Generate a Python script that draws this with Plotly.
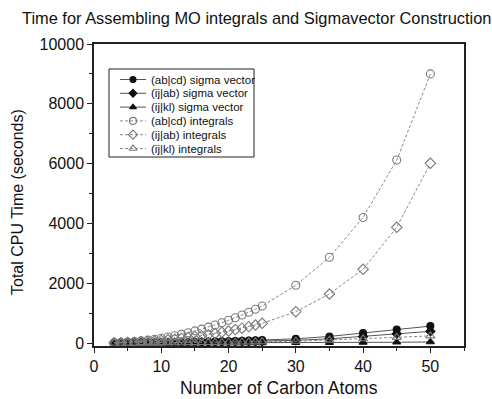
import plotly.graph_objects as go

carbons = [3, 4, 5, 6, 7, 8, 9, 10, 11, 12, 13, 14, 15, 16, 17, 18, 19, 20, 21, 22, 23, 24, 25,
           30, 35, 40, 45, 50]

abcd_sigma = [1, 2, 3, 4, 6, 8, 10, 13, 16, 19, 23, 27, 32, 37, 42, 48, 54, 60, 66, 73, 80, 87, 95,
              140, 220, 330, 450, 565]
ijab_sigma = [1, 1, 2, 3, 4, 5, 7, 9, 10, 12, 15, 18, 21, 24, 27, 31, 35, 39, 43, 47, 52, 57, 62,
              90, 140, 215, 310, 390]
ijkl_sigma = [0, 0, 0, 1, 1, 1, 1, 2, 2, 2, 3, 3, 3, 3, 4, 4, 4, 5, 5, 5, 5, 6, 6,
              10, 14, 19, 25, 35]
abcd_int = [12, 22, 35, 52, 72, 97, 127, 160, 200, 245, 290, 345, 405, 465, 530, 600, 680, 760, 845, 935, 1030, 1130, 1240,
            1930, 2866, 4200, 6120, 9000]
ijab_int = [6, 12, 19, 28, 40, 54, 69, 87, 107, 130, 155, 182, 212, 245, 280, 318, 358, 400, 448, 497, 548, 602, 659,
            1047, 1639, 2465, 3870, 6010]
ijkl_int = [0, 1, 1, 2, 3, 4, 5, 6, 7, 9, 10, 12, 14, 16, 18, 21, 24, 27, 30, 33, 36, 39, 42,
            60, 95, 140, 190, 240]

series_names = ["(ab|cd) sigma vector", "(ij|ab) sigma vector", "(ij|kl) sigma vector",
                "(ab|cd) integrals", "(ij|ab) integrals", "(ij|kl) integrals"]
series_values = [abcd_sigma, ijab_sigma, ijkl_sigma, abcd_int, ijab_int, ijkl_int]
symbols = ["circle", "diamond", "triangle-up", "circle-open", "diamond-open", "triangle-up-open"]

title_text = "Time for Assembling MO integrals and Sigmavector Construction"
x_title = "Number of Carbon Atoms"
y_title = "Total CPU Time (seconds)"

FONT = "Liberation Sans, Arial"

# plot area in pixels
L, R, T, B = 94, 464, 44, 346
W, H = 492, 399

# legend geometry (pixel coordinates via an overlay axis)
LEG_BOX = (109, 69, 254, 157)
LEG_ROW0, LEG_STEP = 79.5, 13.8
LEG_LINE = (120, 146)
LEG_TEXT_X = 149


def style(i):
    is_int = i >= 3
    col = "#7a7a7a" if is_int else "#111111"
    lcol = "#8a8a8a" if is_int else "#555555"
    return dict(
        line=dict(color=lcol, width=1, dash="3px,2px" if is_int else "solid"),
        marker=dict(symbol=symbols[i], size=8 if is_int else 7, color=col,
                    line=dict(color=col, width=1.1)),
    )


fig = go.Figure()
for i, (name, vals) in enumerate(zip(series_names, series_values)):
    fig.add_trace(go.Scatter(x=carbons, y=vals, name=name, mode="lines+markers",
                             showlegend=False, **style(i)))

# custom legend samples drawn on a pixel-mapped overlay axis
annotations = []
for i, name in enumerate(series_names):
    yrow = LEG_ROW0 + i * LEG_STEP
    st = style(i)
    fig.add_trace(go.Scatter(x=list(LEG_LINE), y=[yrow, yrow], mode="lines",
                             line=st["line"], xaxis="x2", yaxis="y2",
                             showlegend=False, hoverinfo="skip"))
    fig.add_trace(go.Scatter(x=[(LEG_LINE[0] + LEG_LINE[1]) / 2], y=[yrow], mode="markers",
                             marker=dict(st["marker"], size=st["marker"]["size"] - 1),
                             xaxis="x2", yaxis="y2", showlegend=False, hoverinfo="skip"))
    annotations.append(dict(text=name, xref="x2", yref="y2", x=LEG_TEXT_X, y=yrow,
                            xanchor="left", yanchor="middle", showarrow=False,
                            font=dict(family=FONT, size=11.5, color="#111")))


def px_x(p):
    return (p - L) / (R - L)


def px_y(p):
    return (B - p) / (B - T)


annotations.append(dict(text=title_text, xref="paper", yref="paper",
                        x=px_x(20), y=px_y(18),
                        xanchor="left", yanchor="middle", showarrow=False,
                        font=dict(family=FONT, size=16.4, color="#111")))
annotations.append(dict(text=x_title, xref="paper", yref="paper",
                        x=px_x(279), y=px_y(387.5),
                        xanchor="center", yanchor="middle", showarrow=False,
                        font=dict(family=FONT, size=17.5, color="#111")))
annotations.append(dict(text=y_title, xref="paper", yref="paper",
                        x=px_x(17), y=px_y(202), textangle=-90,
                        xanchor="center", yanchor="middle", showarrow=False,
                        font=dict(family=FONT, size=16, color="#111")))

axis_common = dict(
    showline=True, linecolor="#222", linewidth=1.5, mirror=True,
    ticks="outside", ticklen=5, tickwidth=1.2, tickcolor="#222",
    showgrid=False, zeroline=False, automargin=False,
    tickfont=dict(family=FONT, size=16, color="#111"),
)
fig.update_layout(
    xaxis=dict(range=[0, 55], tick0=0, dtick=10,
               minor=dict(ticks="outside", ticklen=3, dtick=5, tickcolor="#222", tickwidth=1.2),
               **axis_common),
    yaxis=dict(range=[-100, 10000], tick0=0, dtick=2000, tickformat="d",
               minor=dict(ticks="outside", ticklen=3, dtick=1000, tickcolor="#222", tickwidth=1.2),
               **axis_common),
    xaxis2=dict(range=[L, R], overlaying="x", visible=False, fixedrange=True),
    yaxis2=dict(range=[B, T], overlaying="y", visible=False, fixedrange=True),
    width=W, height=H,
    margin=dict(l=L, r=W - R, t=T, b=H - B, autoexpand=False),
    paper_bgcolor="white", plot_bgcolor="white",
    font=dict(family=FONT, color="#111"),
    showlegend=False,
    shapes=[dict(type="rect", xref="x2", yref="y2",
                 x0=LEG_BOX[0], y0=LEG_BOX[1], x1=LEG_BOX[2], y1=LEG_BOX[3],
                 line=dict(color="#222", width=1), fillcolor="rgba(0,0,0,0)")],
    annotations=annotations,
)

fig.write_html("out.html")
